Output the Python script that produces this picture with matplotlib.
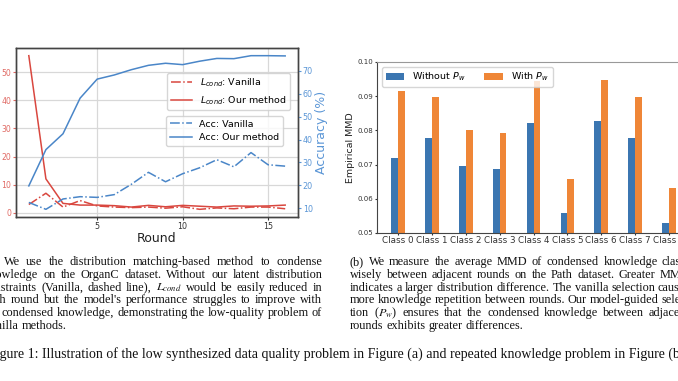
import numpy as np
import matplotlib.pyplot as plt

# data
rounds = [1, 2, 3, 4, 5, 6, 7, 8, 9, 10, 11, 12, 13, 14, 15, 16]
loss_vanilla = [3.0, 7.0, 2.1, 4.4, 2.5, 2.1, 1.9, 2.1, 1.7, 2.2, 1.3, 1.8, 1.5, 2.1, 2.1, 1.5]
loss_ours = [55.8, 12.1, 3.4, 2.8, 2.8, 2.6, 2.1, 2.7, 2.2, 2.7, 2.4, 2.1, 2.5, 2.4, 2.5, 2.8]
acc_vanilla = [12.6, 9.6, 14.1, 15.1, 14.8, 16.0, 20.5, 25.7, 21.6, 25.1, 27.7, 31.2, 28.1, 34.3, 29.0, 28.4]
acc_ours = [19.8, 35.6, 42.5, 58.0, 66.3, 68.1, 70.4, 72.3, 73.2, 72.6, 74.1, 75.3, 75.2, 76.5, 76.5, 76.4]
round_ticks = [5, 10, 15]

classes = ['Class 0', 'Class 1', 'Class 2', 'Class 3', 'Class 4',
           'Class 5', 'Class 6', 'Class 7', 'Class 8']
mmd_without = [0.0720, 0.0779, 0.0696, 0.0686, 0.0821, 0.0558, 0.0827, 0.0779, 0.0530]
mmd_with = [0.0915, 0.0898, 0.0801, 0.0791, 0.0944, 0.0657, 0.0947, 0.0898, 0.0633]

caption_a = [
    "(a) We use the distribution matching-based method to condense",
    "knowledge on the OrganC dataset. Without our latent distribution",
    "constraints (Vanilla, dashed line), $L_{cond}$ would be easily reduced in",
    "each round but the model's performance struggles to improve with",
    "the condensed knowledge, demonstrating the low-quality problem of",
    "Vanilla methods.",
]
caption_b = [
    "(b) We measure the average MMD of condensed knowledge class-",
    "wisely between adjacent rounds on the Path dataset. Greater MMD",
    "indicates a larger distribution difference. The vanilla selection causes",
    "more knowledge repetition between rounds. Our model-guided selec-",
    "tion ($P_w$) ensures that the condensed knowledge between adjacent",
    "rounds exhibits greater differences.",
]
fig_caption = ("Figure 1: Illustration of the low synthesized data quality problem "
               "in Figure (a) and repeated knowledge problem in Figure (b).")

W, H, DPI = 678, 381, 100
fig = plt.figure(figsize=(W / DPI, H / DPI), dpi=DPI)


def px_box(l, t, r, b):
    return [l / W, 1 - b / H, (r - l) / W, (b - t) / H]


red = '#d9473f'
blue = '#4a86c8'
red_txt = '#e06a64'
blue_txt = '#5b96d6'
spine_c = '#444444'

# ---- (a) loss / accuracy ----
ax1 = fig.add_axes(px_box(16, 48, 298, 217))
ax1.plot(rounds, loss_vanilla, '-.', color=red, lw=1.1, label=r'$L_{cond}$: Vanilla')
ax1.plot(rounds, loss_ours, '-', color=red, lw=1.1, label=r'$L_{cond}$: Our method')
ax1.set_xticks(round_ticks)
ax1.grid(True, color='#d8d8d8', lw=0.9)
ax1.set_axisbelow(True)
ax1.tick_params(axis='y', colors=red_txt, labelsize=5.6, length=2, pad=1.5)
ax1.tick_params(axis='x', colors='#333333', labelsize=5.8, length=2, pad=1.5)
ax1.set_xlabel('Round', fontsize=9, labelpad=1, color='#222222')

ax2 = ax1.twinx()
ax2.plot(rounds, acc_vanilla, '-.', color=blue, lw=1.1, label='Acc: Vanilla')
ax2.plot(rounds, acc_ours, '-', color=blue, lw=1.1, label='Acc: Our method')
ax2.tick_params(axis='y', colors=blue_txt, labelsize=5.8, length=2, pad=1.5)
ax2.set_ylabel('Accuracy (%)', fontsize=9, color=blue_txt, labelpad=1.5)
for a in (ax1, ax2):
    for s in a.spines.values():
        s.set_color(spine_c)
        s.set_linewidth(1.0)

h1, l1 = ax1.get_legend_handles_labels()
h2, l2 = ax2.get_legend_handles_labels()
leg1 = ax2.legend(h1, l1, loc='upper left', bbox_to_anchor=(0.535, 0.852),
                  borderaxespad=0, fontsize=6.8, handlelength=2.3)
ax2.add_artist(leg1)
ax2.legend(h2, l2, loc='upper left', bbox_to_anchor=(0.532, 0.598),
           borderaxespad=0, fontsize=6.8, handlelength=2.3)

# ---- (b) MMD bars ----
ax3 = fig.add_axes(px_box(377, 62, 690, 233))
x = np.arange(len(classes))
ax3.bar(x - 0.1, mmd_without, 0.2, color='#3b76b1', label=r'Without $P_w$')
ax3.bar(x + 0.1, mmd_with, 0.2, color='#ef8637', label=r'With $P_w$')
ax3.set_ylim(0.05, 0.10)
ax3.set_xticks(x, classes)
ax3.tick_params(axis='x', labelsize=6.3, length=1.5, pad=1, colors='#333333')
ax3.tick_params(axis='y', labelsize=5, length=1.7, pad=0.8, colors='#333333')
ax3.set_ylabel('Empirical MMD', fontsize=6.8, labelpad=2, color='#222222')
for s in ax3.spines.values():
    s.set_color(spine_c)
ax3.spines['top'].set_color('#999999')
ax3.legend(loc='upper left', ncol=2, fontsize=6.8)

# ---- captions (justified, clipped by the figure edge) ----
rend = fig.canvas.get_renderer()
serif = 'Liberation Serif'
A_LEFT, A_RIGHT = -16, 322
B_LEFT, B_RIGHT = 350, 690


def text_w(s, size):
    t = fig.text(0, 0, s, fontsize=size, family=serif, math_fontfamily='stix')
    wd = t.get_window_extent(rend).width
    t.remove()
    return wd


def natural_w(line, size):
    words = line.split(' ')
    return sum(text_w(w, size) for w in words) + 0.27 * size * DPI / 72 * (len(words) - 1)


# sub-caption size: tightest full line just fits its column
sub_size = 10.0
for _ in range(3):
    ratio = min([(A_RIGHT - A_LEFT) / natural_w(l, sub_size) for l in caption_a[:-1]] +
                [(B_RIGHT - B_LEFT) / natural_w(l, sub_size) for l in caption_b[:-1]])
    sub_size *= ratio

# main caption size: "... in Figure (" ends near the right edge
prefix = fig_caption[:fig_caption.rindex('(') + 1]
main_size = 10.0
for _ in range(3):
    main_size *= 674 / (text_w(prefix, main_size) - text_w("Fi", main_size))


def block(lines, left, right, base, step, size):
    for i, line in enumerate(lines):
        y = 1 - (base + i * step) / H
        words = line.split(' ')
        arts = [fig.text(0, y, w, fontsize=size, family=serif, math_fontfamily='stix',
                         va='baseline', color='#111111') for w in words]
        widths = [a.get_window_extent(rend).width for a in arts]
        if i == len(lines) - 1:
            gap = 0.25 * size * DPI / 72
        else:
            gap = (right - left - sum(widths)) / (len(words) - 1)
        xp = left
        for a, wd in zip(arts, widths):
            a.set_x(xp / W)
            xp += wd + gap


block(caption_a, A_LEFT, A_RIGHT, 265, 12.8, sub_size)
block(caption_b, B_LEFT, B_RIGHT, 265, 12.8, sub_size)

fi_w = text_w("Fi", main_size)
fig.text((-fi_w - 0.5) / W, 1 - 358 / H, fig_caption, fontsize=main_size, family=serif,
         va='baseline', color='#111111')

fig.savefig('out.png', dpi=DPI)
